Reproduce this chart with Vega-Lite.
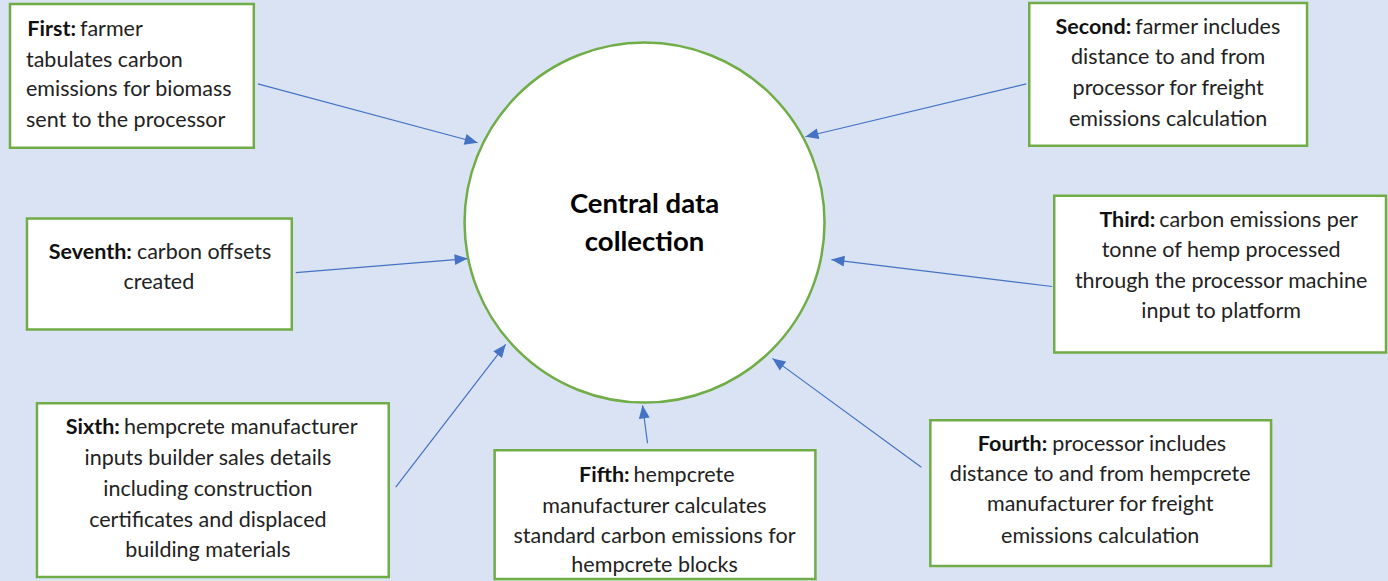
{
  "$schema": "https://vega.github.io/schema/vega-lite/v6.json",
  "width": 1388,
  "height": 581,
  "autosize": {"type": "fit", "contains": "padding"},
  "padding": 0,
  "background": "#dae3f3",
  "config": {"view": {"stroke": null}, "font": "Lato"},
  "datasets": {
    "hub": [{"x": 645, "y": 223, "label": "Central data collection"}],
    "hubText": [
      {"x": 645, "y": 205, "text": "Central data"},
      {"x": 645, "y": 243, "text": "collection"}
    ],
    "boxes": [
      {"id": "First", "x": 10, "x2": 254, "y": 4, "y2": 148},
      {"id": "Second", "x": 1030, "x2": 1308, "y": 3, "y2": 146},
      {"id": "Seventh", "x": 27, "x2": 292, "y": 219, "y2": 330},
      {"id": "Third", "x": 1055, "x2": 1387, "y": 196, "y2": 353},
      {"id": "Sixth", "x": 37, "x2": 389, "y": 404, "y2": 578},
      {"id": "Fifth", "x": 495, "x2": 816, "y": 451, "y2": 580},
      {"id": "Fourth", "x": 931, "x2": 1272, "y": 421, "y2": 567}
    ],
    "arrows": [
      {"id": "First", "x": 258, "y": 84, "x2": 478, "y2": 143, "dir": 105},
      {"id": "Second", "x": 1027, "y": 84, "x2": 806, "y2": 137, "dir": 256.5},
      {"id": "Seventh", "x": 296, "y": 273, "x2": 468, "y2": 259, "dir": 85.3},
      {"id": "Third", "x": 1053, "y": 287, "x2": 832, "y2": 260, "dir": 277},
      {"id": "Sixth", "x": 396, "y": 488, "x2": 506, "y2": 345, "dir": 37.8},
      {"id": "Fifth", "x": 648, "y": 444, "x2": 643, "y2": 406, "dir": 352.5},
      {"id": "Fourth", "x": 922, "y": 468, "x2": 773, "y2": 359, "dir": 306}
    ],
    "lead": [
      {"x": 76, "y": 30, "text": "First:"},
      {"x": 1132, "y": 28, "text": "Second:"},
      {"x": 132, "y": 253, "text": "Seventh:"},
      {"x": 1156, "y": 221, "text": "Third:"},
      {"x": 120, "y": 429, "text": "Sixth:"},
      {"x": 630, "y": 477, "text": "Fifth:"},
      {"x": 1048, "y": 446, "text": "Fourth:"}
    ],
    "startText": [
      {"x": 80, "y": 30, "text": "farmer"},
      {"x": 26, "y": 61, "text": "tabulates carbon"},
      {"x": 26, "y": 90, "text": "emissions for biomass"},
      {"x": 26, "y": 121, "text": "sent to the processor"},
      {"x": 1136, "y": 28, "text": "farmer includes"},
      {"x": 137, "y": 253, "text": "carbon offsets"},
      {"x": 1160, "y": 221, "text": "carbon emissions per"},
      {"x": 124, "y": 429, "text": "hempcrete manufacturer"},
      {"x": 634, "y": 477, "text": "hempcrete"},
      {"x": 1053, "y": 446, "text": "processor includes"}
    ],
    "centerText": [
      {"x": 1169, "y": 58, "text": "distance to and from"},
      {"x": 1169, "y": 89, "text": "processor for freight"},
      {"x": 1169, "y": 120, "text": "emissions calculation"},
      {"x": 159, "y": 283, "text": "created"},
      {"x": 1222, "y": 251, "text": "tonne of hemp processed"},
      {"x": 1222, "y": 282, "text": "through the processor machine"},
      {"x": 1222, "y": 313, "text": "input to platform"},
      {"x": 208, "y": 460, "text": "inputs builder sales details"},
      {"x": 208, "y": 491, "text": "including construction"},
      {"x": 208, "y": 522, "text": "certificates and displaced"},
      {"x": 208, "y": 552, "text": "building materials"},
      {"x": 655, "y": 508, "text": "manufacturer calculates"},
      {"x": 655, "y": 538, "text": "standard carbon emissions for"},
      {"x": 655, "y": 567, "text": "hempcrete blocks"},
      {"x": 1101, "y": 476, "text": "distance to and from hempcrete"},
      {"x": 1101, "y": 506, "text": "manufacturer for freight"},
      {"x": 1101, "y": 538, "text": "emissions calculation"}
    ]
  },
  "encoding": {
    "x": {"field": "x", "type": "quantitative", "scale": {"domain": [0, 1388], "nice": false, "zero": false}, "axis": null},
    "y": {"field": "y", "type": "quantitative", "scale": {"domain": [0, 581], "nice": false, "zero": false, "reverse": true}, "axis": null}
  },
  "layer": [
    {
      "data": {"name": "arrows"},
      "mark": {"type": "rule", "color": "#4472c4", "strokeWidth": 1.2},
      "encoding": {"x2": {"field": "x2"}, "y2": {"field": "y2"}}
    },
    {
      "data": {"name": "arrows"},
      "mark": {"type": "point", "shape": "M0,0L-0.42,1L0.42,1Z", "filled": true, "color": "#4472c4", "opacity": 1, "size": 676},
      "encoding": {
        "x": {"field": "x2", "type": "quantitative"},
        "y": {"field": "y2", "type": "quantitative"},
        "angle": {"field": "dir", "type": "quantitative", "scale": null}
      }
    },
    {
      "data": {"name": "hub"},
      "mark": {"type": "point", "shape": "circle", "filled": false, "fill": "white", "fillOpacity": 1, "stroke": "#70ad47", "strokeWidth": 2.5, "opacity": 1, "size": 129600}
    },
    {
      "data": {"name": "boxes"},
      "mark": {"type": "rect", "fill": "white", "stroke": "#70ad47", "strokeWidth": 2.5},
      "encoding": {"x2": {"field": "x2"}, "y2": {"field": "y2"}}
    },
    {
      "data": {"name": "hubText"},
      "mark": {"type": "text", "font": "Lato", "fontSize": 27.5, "fontWeight": "bold", "align": "center", "baseline": "middle", "color": "#000000"},
      "encoding": {"text": {"field": "text"}}
    },
    {
      "data": {"name": "lead"},
      "mark": {"type": "text", "font": "Lato", "fontSize": 21.5, "fontWeight": "bold", "align": "right", "baseline": "middle", "color": "#111111"},
      "encoding": {"text": {"field": "text"}}
    },
    {
      "data": {"name": "startText"},
      "mark": {"type": "text", "font": "Lato", "fontSize": 21.5, "align": "left", "baseline": "middle", "color": "#222222"},
      "encoding": {"text": {"field": "text"}}
    },
    {
      "data": {"name": "centerText"},
      "mark": {"type": "text", "font": "Lato", "fontSize": 21.5, "align": "center", "baseline": "middle", "color": "#222222"},
      "encoding": {"text": {"field": "text"}}
    }
  ]
}
